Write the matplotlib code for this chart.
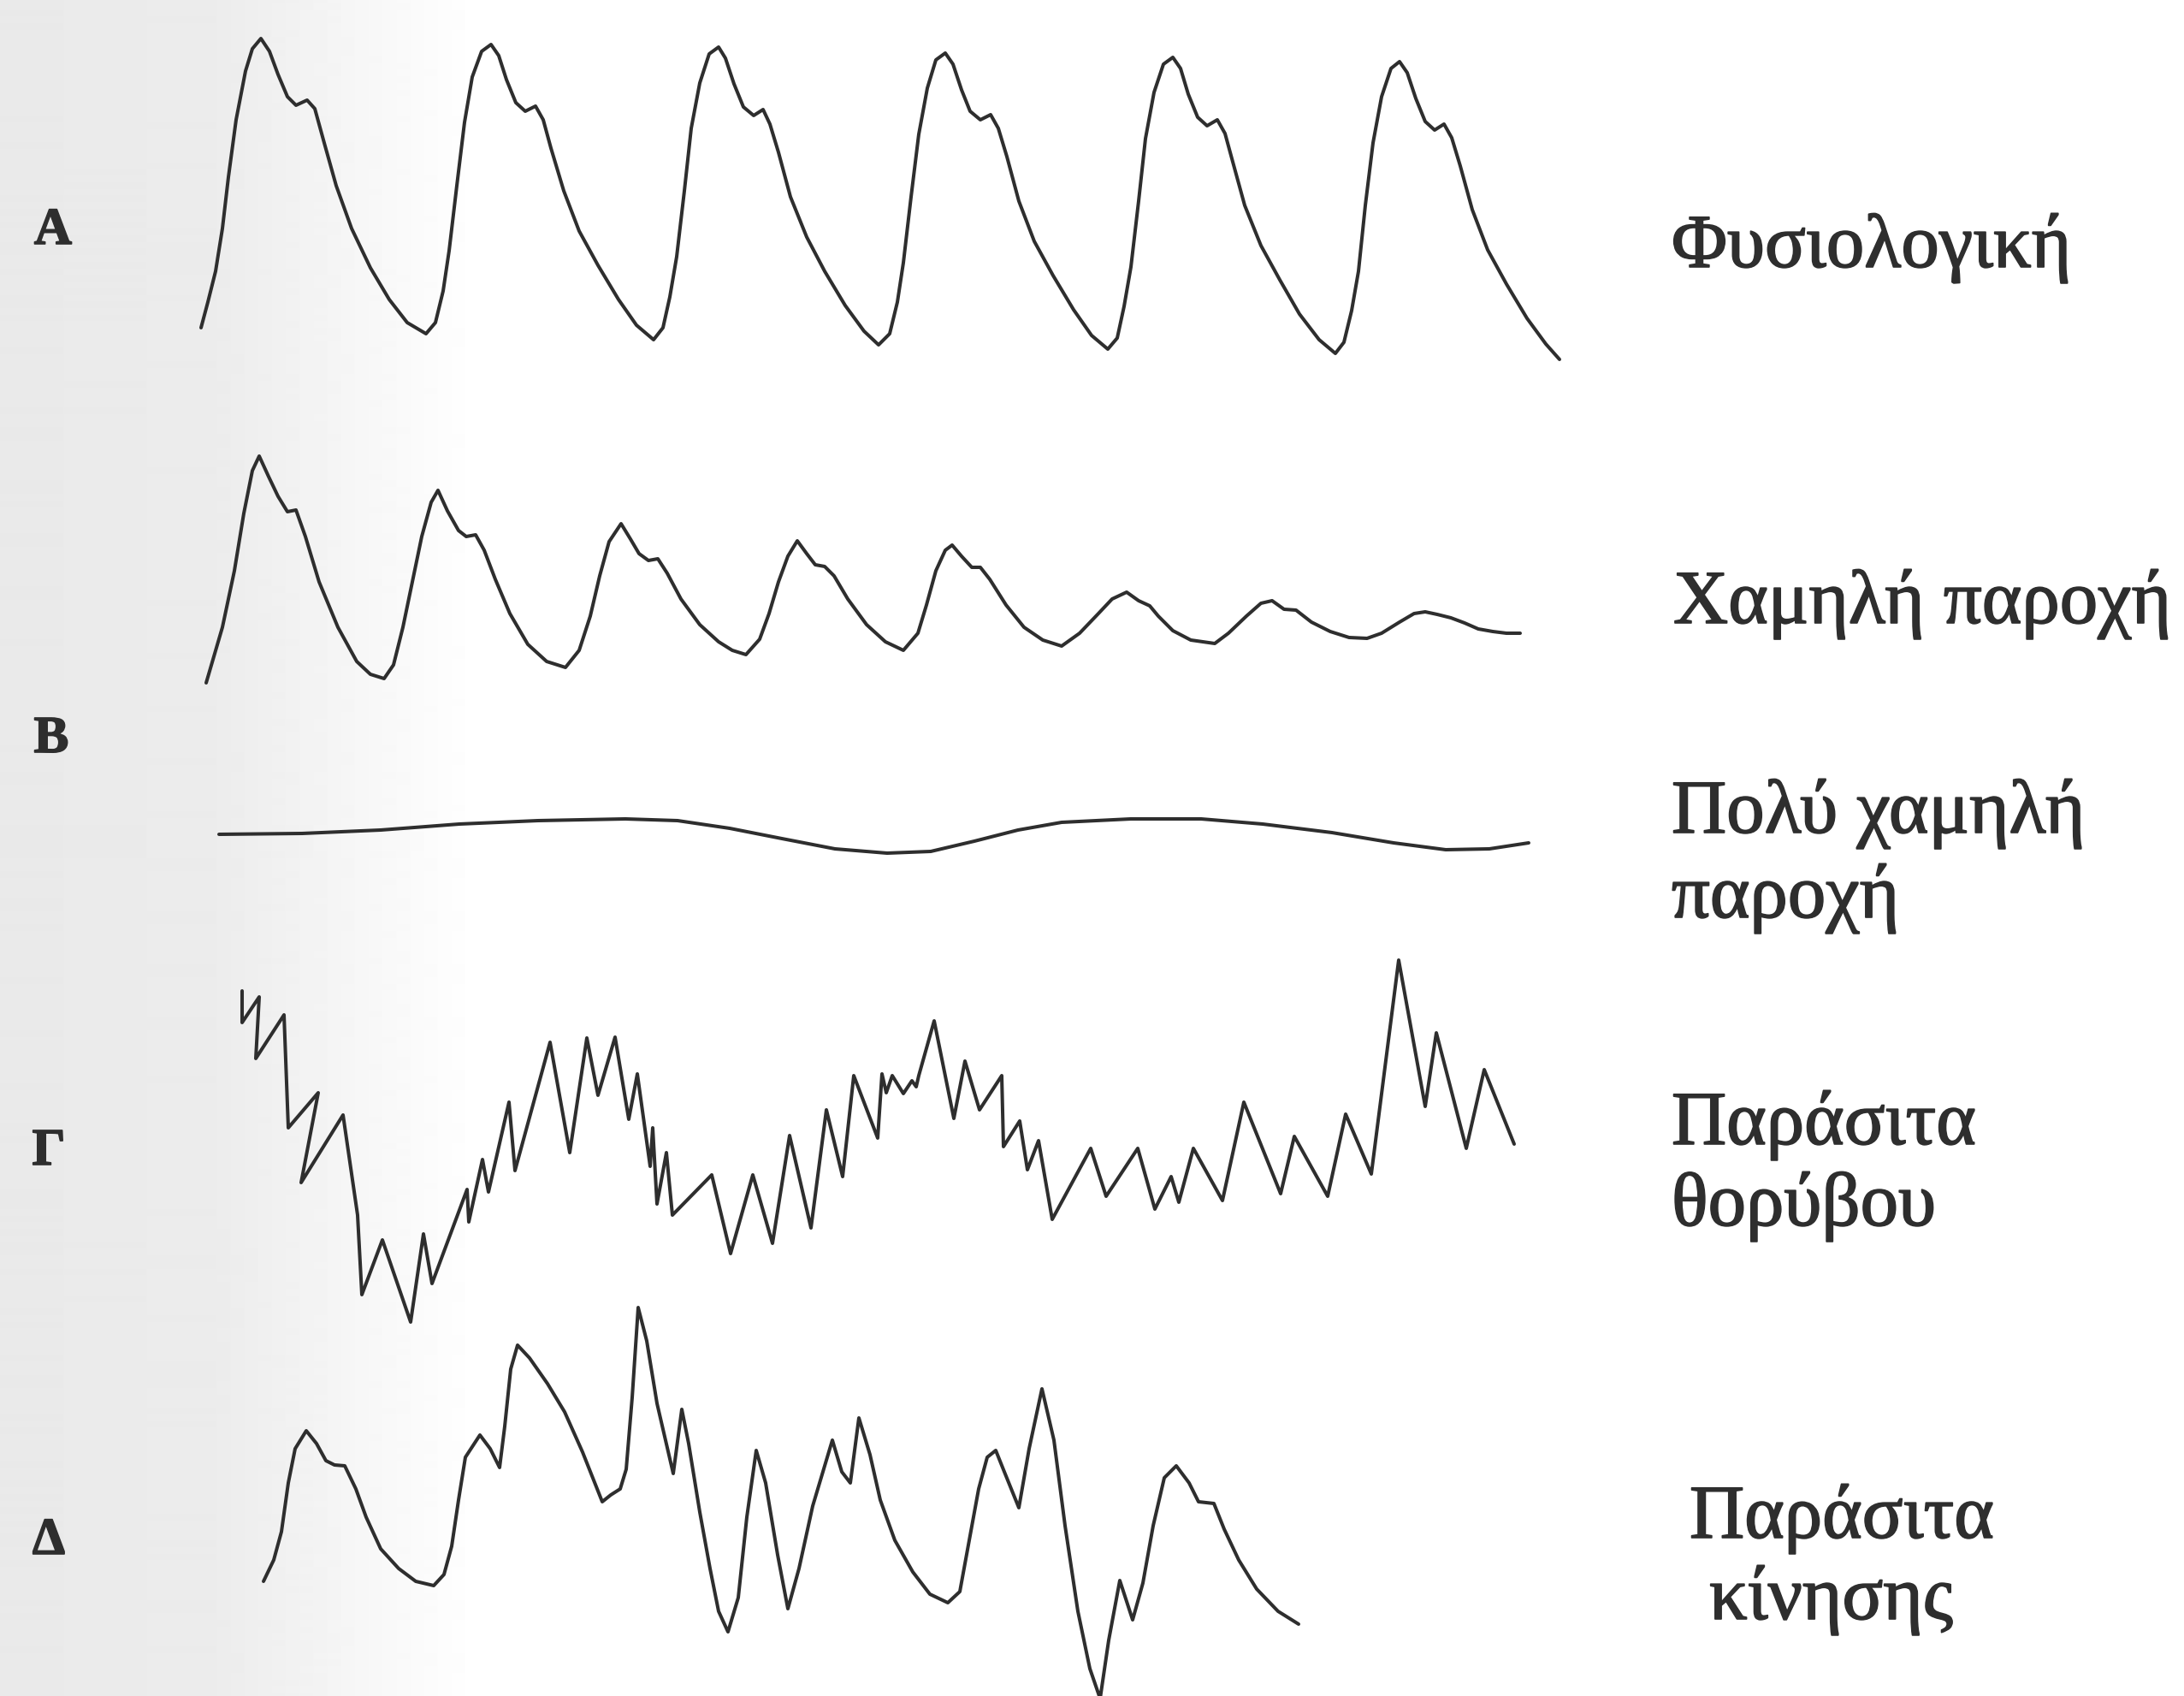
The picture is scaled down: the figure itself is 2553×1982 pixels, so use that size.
import numpy as np
import matplotlib
matplotlib.use('Agg')
import matplotlib.pyplot as plt
import matplotlib.patheffects as pe

# ---- traces (pixel units of the 2553x1982 page, y downwards) ----
# A: normal pulse waveform
a_x = [235, 243, 252, 260, 267, 276, 287, 295, 305, 315, 325, 336, 346, 359, 368, 379, 393, 411, 433, 455, 476, 498,
       509, 518, 525, 534, 543, 552, 563, 574, 583, 592, 603, 614, 626, 635, 644, 659, 677, 699, 723, 744, 764,
       775, 783, 791, 800, 808, 818, 829, 840, 848, 858, 869, 881, 892, 900, 910, 924, 943, 964, 988, 1010, 1027,
       1040, 1049, 1056, 1065, 1074, 1084, 1094, 1105, 1114, 1124, 1134, 1146, 1158, 1167, 1177, 1191, 1209, 1231, 1255, 1276, 1295,
       1306, 1314, 1322, 1331, 1339, 1349, 1360, 1371, 1380, 1389, 1400, 1411, 1423, 1432, 1441, 1455, 1474, 1496, 1519, 1542, 1561,
       1571, 1580, 1588, 1596, 1605, 1615, 1626, 1636, 1645, 1655, 1666, 1677, 1688, 1697, 1707, 1721, 1739, 1761, 1785, 1807, 1823]
a_y = [383, 353, 317, 267, 207, 140, 83, 57, 45, 60, 87, 113, 123, 117, 127, 167, 217, 267, 313, 350, 377, 390,
       377, 340, 293, 217, 143, 90, 60, 52, 65, 93, 120, 130, 124, 140, 173, 223, 270, 310, 350, 380, 397,
       383, 347, 300, 223, 150, 97, 63, 55, 68, 98, 125, 135, 128, 145, 178, 230, 277, 317, 357, 387, 403,
       390, 353, 307, 230, 157, 103, 70, 62, 75, 105, 130, 140, 134, 150, 183, 235, 282, 322, 362, 392, 408,
       395, 358, 312, 235, 162, 108, 75, 67, 80, 110, 137, 147, 140, 156, 189, 240, 287, 327, 367, 397, 413,
       400, 363, 317, 240, 167, 113, 80, 72, 85, 115, 142, 152, 145, 161, 194, 245, 292, 332, 372, 402, 420]

# B: low perfusion, damping
b_x = [241, 260, 274, 285, 295, 303, 314, 325, 336, 346, 357, 373, 395, 417, 433, 449,
       460, 471, 482, 493, 504, 512, 523, 536, 545, 556, 566, 579, 596, 617, 639, 661,
       677, 690, 701, 712, 726, 737, 747, 758, 769, 780, 796, 818, 840, 856, 872,
       888, 899, 910, 921, 932, 943, 953, 964, 975, 991, 1013, 1035, 1056,
       1073, 1083, 1094, 1105, 1113, 1124, 1136, 1146, 1157, 1176, 1197, 1219, 1241,
       1262, 1284, 1300, 1317, 1331, 1344, 1354, 1371, 1392, 1420,
       1436, 1457, 1474, 1487, 1501, 1515, 1533, 1555, 1577, 1598,
       1615, 1636, 1653, 1666, 1680, 1696, 1712, 1728, 1745, 1761, 1777]
b_y = [798, 733, 667, 600, 550, 533, 557, 580, 598, 596, 627, 680, 733, 773, 788, 793,
       777, 733, 680, 627, 587, 573, 597, 620, 627, 625, 643, 677, 717, 753, 773, 780,
       760, 720, 673, 633, 612, 630, 647, 655, 653, 670, 700, 730, 750, 760, 765,
       747, 717, 680, 650, 632, 647, 660, 662, 673, 700, 730, 750, 760,
       740, 707, 667, 643, 637, 650, 663, 663, 677, 707, 733, 748, 755,
       740, 717, 700, 692, 702, 708, 720, 737, 748, 752,
       740, 720, 705, 702, 712, 713, 727, 738, 745, 746,
       740, 727, 717, 715, 718, 722, 728, 735, 738, 740, 740]

# C: very low perfusion, nearly flat
c_x = [256, 353, 445, 537, 629, 731, 792, 853, 914, 976, 1037, 1088, 1139, 1190, 1241, 1322, 1404, 1476, 1557, 1629, 1690, 1741, 1787]
c_y = [975, 974, 970, 963, 959, 957, 959, 968, 980, 992, 997, 995, 983, 970, 961, 957, 957, 963, 973, 985, 993, 992, 985]

# Γ: noise artefact
d_x = [283, 283, 303, 299, 332, 337, 372, 352, 401, 418, 423, 447, 480, 495, 505, 546, 548, 564, 571, 595, 602,
       643, 666, 686, 699, 719, 735, 745, 760, 763, 768, 779, 786, 832, 854, 880, 903, 923, 948, 966, 985,
       998, 1026, 1031, 1036, 1043, 1056, 1066, 1071, 1074, 1092, 1115, 1128, 1145, 1171, 1173, 1192, 1201,
       1214, 1230, 1275, 1293, 1330, 1350, 1369, 1378, 1395, 1429, 1454, 1497, 1513, 1552, 1573, 1603,
       1635, 1666, 1679, 1714, 1735, 1770]
d_y = [1158, 1195, 1165, 1237, 1186, 1318, 1277, 1382, 1303, 1420, 1513, 1449, 1545, 1442, 1500, 1390, 1428, 1355, 1393, 1288, 1368,
       1218, 1347, 1213, 1280, 1212, 1308, 1255, 1363, 1318, 1407, 1347, 1420, 1373, 1465, 1373, 1453, 1327, 1435, 1297, 1375,
       1257, 1330, 1255, 1277, 1257, 1278, 1263, 1270, 1257, 1193, 1307, 1240, 1297, 1257, 1340, 1310, 1367,
       1333, 1425, 1342, 1398, 1342, 1413, 1375, 1405, 1342, 1403, 1288, 1395, 1328, 1398, 1302, 1372,
       1122, 1293, 1207, 1342, 1250, 1337]

# Δ: motion artefact
e_x = [308, 320, 329, 337, 345, 358, 370, 381, 391, 403, 416, 428, 445, 466, 486, 507,
       519, 528, 536, 544, 561, 573, 584, 590, 597, 605, 619, 640, 660, 681, 704,
       714, 725, 732, 739, 746, 756, 768, 787, 797, 805, 818, 830, 840, 851,
       863, 873, 884, 895, 909, 921, 934, 950, 973, 984, 994, 1004, 1017, 1029, 1046, 1067, 1087, 1108,
       1122, 1133, 1144, 1154, 1164, 1174, 1191, 1203, 1218, 1232, 1245, 1260, 1274, 1286,
       1296, 1309, 1324, 1336, 1348, 1361, 1375, 1390, 1401, 1419, 1431, 1448, 1469, 1494, 1518]
e_y = [1848, 1823, 1790, 1733, 1693, 1672, 1687, 1707, 1712, 1713, 1740, 1773, 1810, 1833, 1848, 1853,
       1840, 1807, 1753, 1703, 1677, 1693, 1715, 1667, 1600, 1572, 1587, 1617, 1650, 1697, 1755,
       1747, 1740, 1717, 1633, 1528, 1567, 1640, 1722, 1647, 1687, 1767, 1833, 1883, 1907,
       1867, 1773, 1695, 1733, 1817, 1880, 1833, 1760, 1683, 1720, 1733, 1657, 1700, 1753, 1800, 1837, 1863, 1873,
       1860, 1800, 1740, 1703, 1695, 1720, 1762, 1693, 1623, 1683, 1783, 1883, 1950, 1985,
       1917, 1847, 1893, 1850, 1783, 1727, 1713, 1733, 1755, 1757, 1787, 1823, 1857, 1883, 1898]

panel_letters = ['A', 'B', 'Γ', 'Δ']
captions = [['Φυσιολογική'], ['Χαμηλή παροχή'], ['Πολύ χαμηλή', 'παροχή'],
            ['Παράσιτα', 'θορύβου'], ['Παράσιτα', 'κίνησης']]

# ---- layout ----
W, H = 2553, 1982
ink = '#2e2e2e'
letter_pos = [(62, 270), (60, 864), (57, 1346), (57, 1801)]
caption_pos = [(1954, [312]), (1956, [728]), (1954, [973, 1072]),
               (1954, [1337, 1432]), (1975, [1797]), (1998, [1892])]

fig = plt.figure(figsize=(W / 100, H / 100), dpi=100)
ax = fig.add_axes([0, 0, 1, 1])
ax.set_xlim(0, W)
ax.set_ylim(H, 0)
ax.axis('off')

# greyish left margin of the scanned page
xs = np.arange(0, 650)
shade = np.interp(xs, [0, 250, 560, 650], [0.915, 0.925, 1.0, 1.0])
ax.imshow(shade[np.newaxis, :], extent=[0, 650, H, 0], cmap='gray', vmin=0, vmax=1,
          aspect='auto', zorder=0, interpolation='bilinear')

for xx, yy in [(a_x, a_y), (b_x, b_y), (c_x, c_y), (d_x, d_y), (e_x, e_y)]:
    ax.plot(xx, yy, color=ink, linewidth=2.9, solid_joinstyle='round', solid_capstyle='round', zorder=2)

heavy = [pe.withStroke(linewidth=1.2, foreground=ink)]
for letter, (lx, ly) in zip(panel_letters, letter_pos):
    ax.text(lx, ly, letter, fontsize=44, fontweight='bold', family='Liberation Serif',
            color=ink, ha='center', va='center', path_effects=heavy)

# captions: "Παράσιτα κίνησης" has its second line indented, so it gets two positions
cap_lines = captions[:4] + [[captions[4][0]], [captions[4][1]]]
for lines, (cx, bases) in zip(cap_lines, caption_pos):
    for line, by in zip(lines, bases):
        ax.text(cx, by, line, fontsize=64, family='Liberation Serif', color=ink,
                ha='left', va='baseline', path_effects=heavy)

fig.savefig('out.png', dpi=100)
